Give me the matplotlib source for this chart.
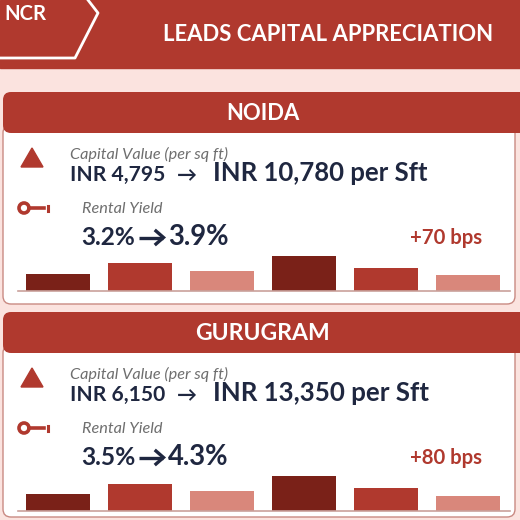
import matplotlib
matplotlib.use('Agg')
import matplotlib.pyplot as plt
from matplotlib.patches import FancyBboxPatch, Polygon, Circle, Rectangle

# Data
cities = ['NOIDA', 'GURUGRAM']
capital_from = ['INR 4,795', 'INR 6,150']
capital_to = ['INR 10,780 per Sft', 'INR 13,350 per Sft']
yield_from = ['3.2%', '3.5%']
yield_to = ['3.9%', '4.3%']
yield_change = ['+70 bps', '+80 bps']
noida_bars = [17, 28, 20, 35, 23, 16]
gurugram_bars = [17, 27, 20, 35, 23, 15]
bar_values = [noida_bars, gurugram_bars]

RED = '#b0392e'
DARK = '#7a2118'
LIGHT = '#d9877b'
PINK = '#fbe3df'
NAVY = '#1f2740'
GREY = '#6e6e6e'
bar_colors = [DARK, RED, LIGHT, DARK, RED, LIGHT]
FONT = ['Lato', 'DejaVu Sans']

fig = plt.figure(figsize=(5.2, 5.2), dpi=100)
fig.patch.set_facecolor(PINK)
ax = fig.add_axes([0, 0, 1, 1])
ax.set_xlim(0, 520)
ax.set_ylim(520, 0)
ax.axis('off')

renderer = fig.canvas.get_renderer()


def fit_text(x, y, s, width, **kw):
    # draw text and scale fontsize so it spans `width` pixels
    t = ax.text(x, y, s, fontsize=10, family=FONT, **kw)
    w = t.get_window_extent(renderer).width
    t.set_fontsize(10 * width / w)
    return t


# top banner
ax.add_patch(Rectangle((0, 0), 520, 68, color=RED, zorder=1))
ax.plot([0, 75, 98, 88], [58, 58, 13, 0], color='white', lw=2, zorder=2)
fit_text(4, 14, 'NCR', 42, color='white', weight='bold', va='center', ha='left', zorder=3)
fit_text(328, 34.5, 'LEADS CAPITAL APPRECIATION', 330, color='white', weight='bold',
         va='center', ha='center', zorder=3)

for k, city in enumerate(cities):
    off = 220 * k
    bottom = 304 if k == 0 else 517

    # card body and header
    ax.add_patch(FancyBboxPatch((3, 125 + off), 512, bottom - 125 - off,
                                boxstyle='round,pad=0,rounding_size=8',
                                fc='white', ec='#c98a83', lw=1, zorder=1))
    ax.add_patch(FancyBboxPatch((3, 92 + off), 530, 41,
                                boxstyle='round,pad=0,rounding_size=8',
                                fc=RED, ec='none', zorder=2))
    fit_text(263, 113 + off, city, 73 if k == 0 else 135, color='white', weight='bold',
             va='center', ha='center', zorder=3)

    # capital value row
    ax.add_patch(Polygon([(21, 167 + off), (43, 167 + off), (32, 148 + off)],
                         closed=True, color=RED, zorder=3))
    fit_text(70, 154 + off, 'Capital Value (per sq ft)', 158, color=GREY, style='italic',
             va='center', ha='left', zorder=3)
    fit_text(70, 181 + off, capital_from[k], 95, color=NAVY, weight='bold',
             va='baseline', ha='left', zorder=3)
    fit_text(177, 181 + off, '\u2192', 20, color=NAVY, weight='bold',
             va='baseline', ha='left', zorder=3)
    fit_text(213, 181 + off, capital_to[k], 215, color=NAVY, weight='bold',
             va='baseline', ha='left', zorder=3)

    # rental yield row (key icon)
    ax.add_patch(Circle((24, 208 + off), 5, fc='none', ec=RED, lw=2.6, zorder=3))
    ax.plot([29, 44], [208 + off, 208 + off], color=RED, lw=2.6, zorder=3)
    ax.plot([48, 48], [206 + off, 211 + off], color=RED, lw=2.2, zorder=3)
    fit_text(82, 209 + off, 'Rental Yield', 81, color=GREY, style='italic',
             va='center', ha='left', zorder=3)
    fit_text(81, 245 + off, yield_from[k], 54, color=NAVY, weight='bold',
             va='baseline', ha='left', zorder=3)
    # arrow between the two yields
    ay = 237.5 + off
    ax.plot([139, 163], [ay, ay], color=NAVY, lw=2.4, solid_capstyle='butt', zorder=3)
    ax.plot([156, 163.5, 156], [ay - 6.5, ay, ay + 6.5], color=NAVY, lw=2.4,
            solid_joinstyle='miter', zorder=3)
    fit_text(168, 245 + off, yield_to[k], 61, color=NAVY, weight='bold',
             va='baseline', ha='left', zorder=3)
    fit_text(410, 244 + off, yield_change[k], 72, color=RED, weight='bold',
             va='baseline', ha='left', zorder=3)

    # bars
    base = 291 + off
    bax = fig.add_axes([18 / 520, (520 - base) / 520, 492 / 520, 40 / 520])
    bax.patch.set_alpha(0)
    bax.bar(range(len(bar_values[k])), bar_values[k], width=0.79, color=bar_colors)
    bax.set_xlim(-0.488, 5.512)
    bax.set_ylim(0, 40)
    for side in ['top', 'right', 'left']:
        bax.spines[side].set_visible(False)
    bax.spines['bottom'].set_color('#c9a19b')
    bax.spines['bottom'].set_linewidth(1.2)
    bax.set_xticks([])
    bax.set_yticks([])

fig.savefig('out.png', dpi=100, facecolor=fig.get_facecolor())
